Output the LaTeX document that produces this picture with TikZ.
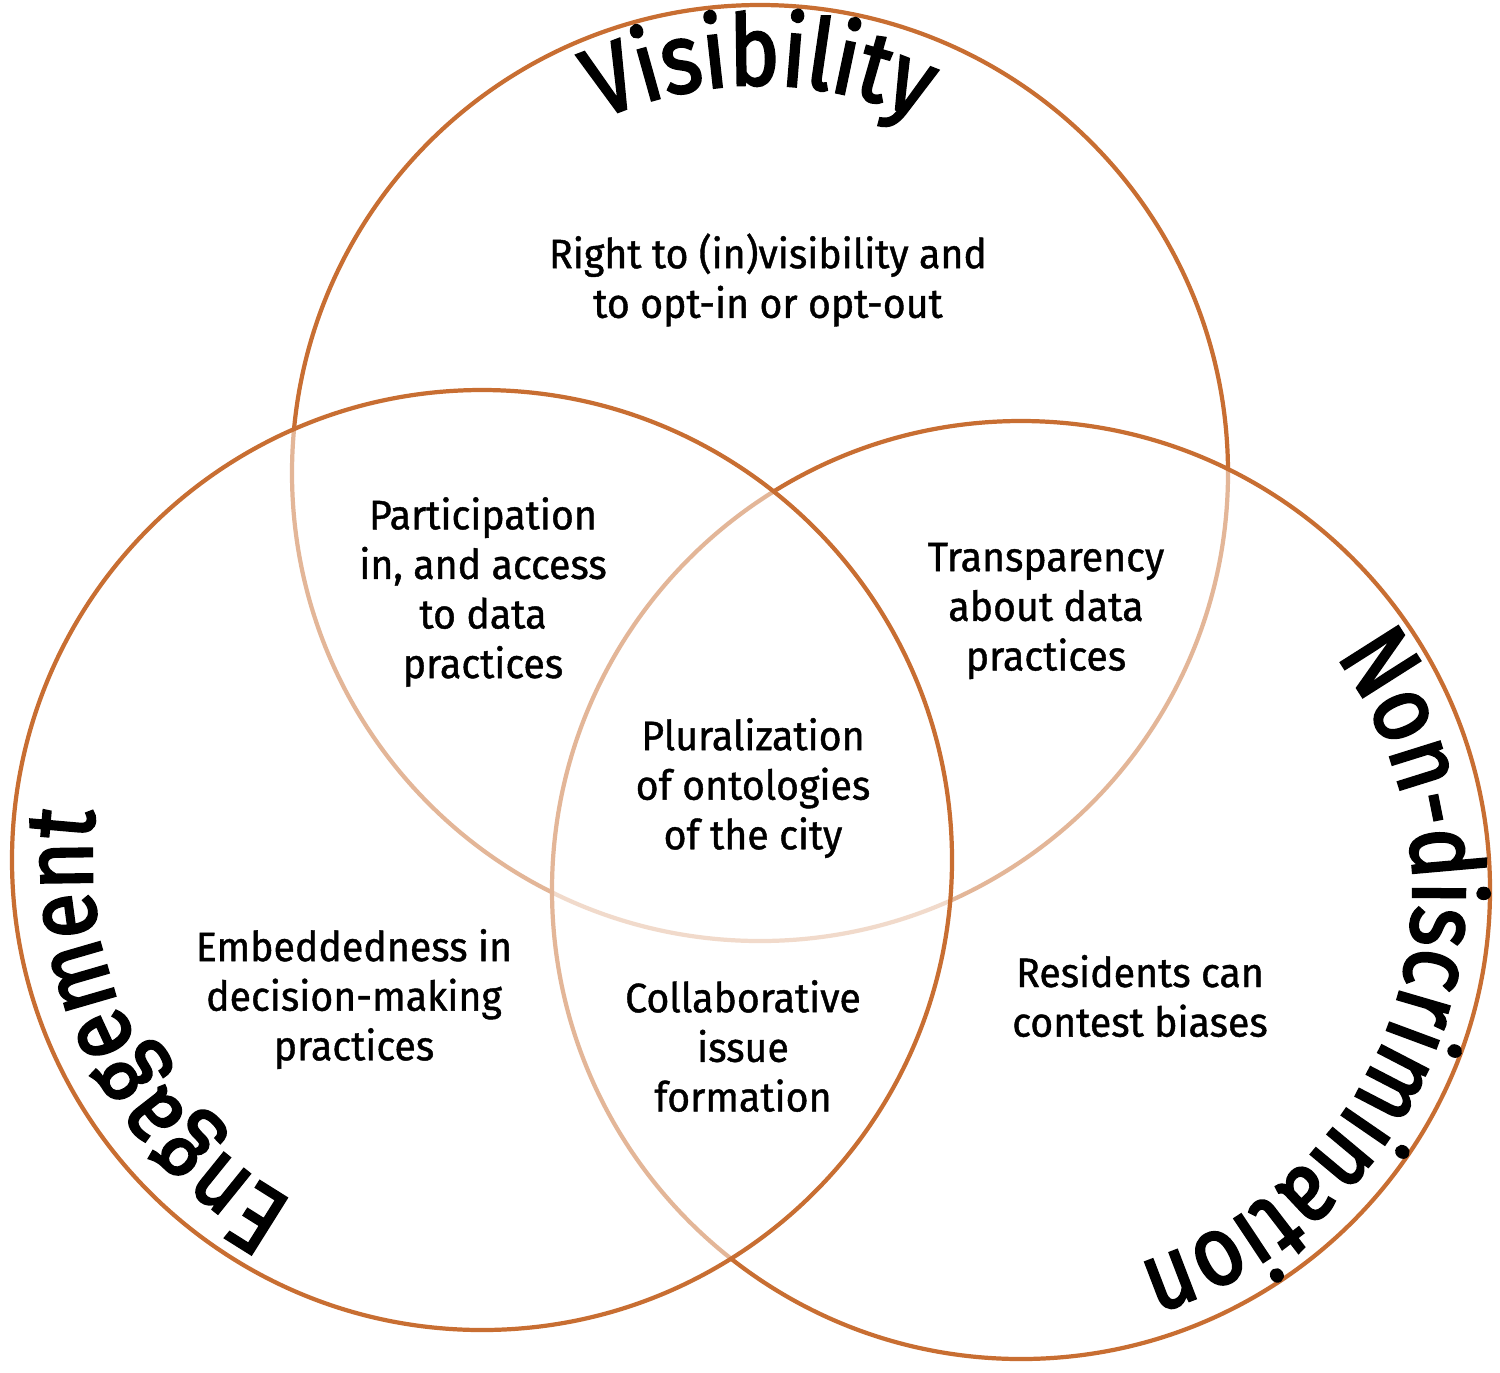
\documentclass[tikz,border=0pt]{standalone}
\usepackage{fontspec}
\setmainfont{Fira Sans}[FakeStretch=0.955, FakeBold=1]
\newfontfamily\titlefamily{Fira Sans}[FakeStretch=0.86, FakeBold=2.5]
\usetikzlibrary{decorations.text}
\definecolor{ringc}{RGB}{200,110,50}
\newcommand\bigfnt{\titlefamily\fontsize{27.5pt}{32pt}\selectfont}
\newcommand\ndfnt{\titlefamily\fontsize{28pt}{32pt}\selectfont}
\newcommand\visfnt{\titlefamily\fontsize{28pt}{32pt}\selectfont}
\begin{document}
\begin{tikzpicture}[x=0.01cm,y=0.01cm]
\tikzset{
  ringstyle/.style={draw=ringc, line width=1.2pt, fill=white, fill opacity=0.5},
  body/.style={align=center, font=\fontsize{11.7pt}{14.1pt}\selectfont, inner sep=0pt, text=black},
  curvelabel/.style={decorate, decoration={text along path, text align=center, text={#1}}}
}
\useasboundingbox (0,0) rectangle (1500,-1372);
\fill[white] (0,0) rectangle (1500,-1372);
% circles: top, right, left (order gives the faded inner arcs)
\path[ringstyle] (760,-473) circle[radius=468];
\path[ringstyle] (1021,-890) circle[radius=469];
\path[ringstyle] (482,-860) circle[radius=470];
% curved titles
\coordinate (ctop) at (760,-473);
\coordinate (cright) at (1021,-890);
\coordinate (cleft) at (482,-860);
\path[curvelabel={|\visfnt|Visibility}] (ctop) ++(150:388) arc[start angle=150, end angle=30, radius=388];
\path[curvelabel={|\bigfnt|Engagement}] (cleft) ++(277:390) arc[start angle=277, end angle=137, radius=390];
\path[curvelabel={|\ndfnt|Non-discrimination}] (cright) ++(73:392) arc[start angle=73, end angle=-109, radius=392];
% region texts
\node[body] (vis) at (768,-280) {Right to (in)visibility and\\to opt-in or opt-out};
\node[body] (part) at (483,-592) {Participation\\in, and access\\to data\\practices};
\node[body] (trans) at (1046,-611) {Transparency\\about data\\practices};
\node[body] (plur) at (753,-788) {Pluralization\\of ontologies\\of the city};
\node[body] (emb) at (354,-999) {Embeddedness in\\decision-making\\practices};
\node[body] (coll) at (743,-1046) {Collaborative\\issue\\formation};
\node[body] (res) at (1140,-996) {Residents can\\contest biases};
\end{tikzpicture}
\end{document}
